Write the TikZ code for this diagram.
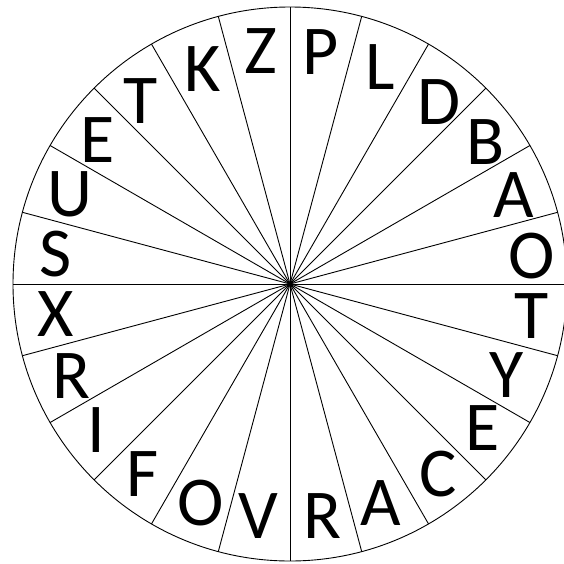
\documentclass[tikz,border=0pt]{standalone}
\usepackage{fontspec}
\setmainfont{Carlito}
\usepackage{tikz}

\begin{document}
\begin{tikzpicture}[
  x=1pt, y=-1pt,
  spoke/.style={draw=black, line width=0.9pt},
  rim/.style={draw=black, line width=0.9pt},
  letter/.style={inner sep=0pt, font=\fontsize{70}{80}\selectfont}
]
\useasboundingbox (0,0) rectangle (564,563);
% Wheel
\coordinate (hub) at (290,284);
\draw[rim] (hub) circle[radius=277pt];
\foreach \a in {0,15,...,345}
  \draw[spoke] (hub) -- ([shift={(\a:277pt)}]hub);
% Letters, clockwise from the top
\foreach \ch/\px/\py [count=\i] in {
  P/321/52, L/380/67, D/439/102, B/486/142, A/514/195, O/532/256,
  T/532/316, Y/507/375, E/483/428, C/438/474, A/381/503, R/322/516,
  V/258/516, O/201/503, F/143/474, I/96/430, R/72/376, X/56/314,
  S/56/254, U/70/194, E/98/140, T/141/101, K/203/69, Z/261/51}
  \node[letter] (l\i) at (\px,\py) {\ch};
\end{tikzpicture}
\end{document}
